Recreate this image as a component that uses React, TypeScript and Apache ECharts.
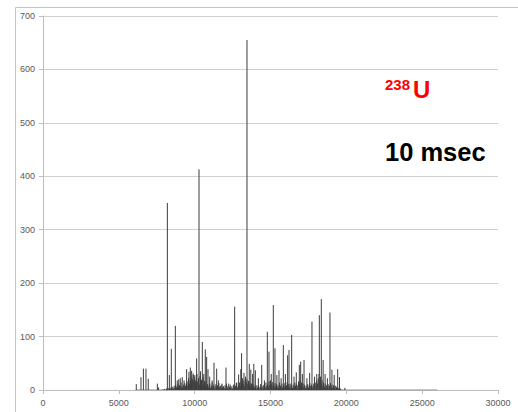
import React, { useEffect, useRef } from "react";
import * as echarts from "echarts";

// Axis ticks
const xTicks = [0, 5000, 10000, 15000, 20000, 25000, 30000];
const yTicks = [0, 100, 200, 300, 400, 500, 600, 700];

// Distinct spectral lines: [channel, counts]
const peaks: [number, number][] = [
  [6150, 11], [6460, 24], [6620, 40], [6790, 40], [6940, 21], [7540, 12], [7620, 5],
  [8200, 350], [8330, 28], [8460, 77], [8725, 120], [8850, 18], [8950, 20], [9050, 22],
  [9180, 24], [9300, 18], [9470, 39], [9625, 34], [9713, 42], [9800, 36], [9900, 31],
  [10010, 28], [10130, 59], [10286, 413], [10380, 35], [10505, 90], [10600, 30],
  [10700, 76], [10790, 62], [10880, 39], [10990, 25], [11150, 18], [11275, 51],
  [11450, 40], [11560, 18], [11800, 12], [12065, 42], [12250, 12], [12637, 156],
  [12780, 14], [12900, 29], [13040, 39], [13093, 69], [13250, 32], [13450, 655],
  [13600, 49], [13700, 38], [13820, 30], [13900, 49], [14000, 37], [14200, 22],
  [14420, 47], [14600, 18], [14790, 109], [14900, 72], [15050, 30], [15185, 159],
  [15295, 78], [15420, 28], [15560, 37], [15700, 22], [15845, 84], [15980, 30],
  [16130, 65], [16220, 75], [16395, 103], [16550, 25], [16700, 33], [16900, 47],
  [16990, 53], [17100, 30], [17210, 56], [17400, 22], [17580, 32], [17735, 128],
  [17900, 25], [18050, 30], [18220, 140], [18350, 170], [18470, 56], [18600, 30],
  [18750, 22], [18920, 145], [19050, 38], [19200, 28], [19430, 39], [19550, 24],
  [19900, 4],
];

// Low-level background counts, one reading every 50 channels from 7900
const floorStart = 7900;
const floorStep = 50;
const floorValues = [
  1, 0, 2, 1, 0, 3, 2, 1, 4, 2, 3, 5, 2, 6, 3, 8, 4, 10, 5, 7,
  12, 6, 9, 4, 14, 7, 5, 10, 6, 13, 8, 11, 16, 9, 22, 12, 18, 25, 14, 20,
  28, 15, 24, 18, 12, 30, 16, 22, 10, 26, 14, 19, 8, 24, 12, 17, 9, 15, 6, 11,
  5, 9, 12, 4, 8, 14, 6, 10, 3, 7, 11, 5, 9, 4, 13, 6, 8, 3, 10, 5,
  7, 4, 9, 3, 12, 5, 8, 2, 6, 10, 4, 7, 3, 9, 11, 5, 8, 13, 6, 4,
  9, 14, 7, 16, 10, 22, 12, 18, 8, 25, 15, 20, 11, 17, 9, 14, 6, 12, 5, 8,
  10, 4, 7, 3, 9, 5, 8, 2, 6, 11, 4, 7, 3, 9, 12, 5, 14, 7, 10, 6,
  16, 9, 18, 12, 8, 15, 10, 6, 13, 7, 11, 5, 9, 4, 14, 8, 6, 12, 5, 10,
  7, 13, 6, 9, 15, 8, 11, 5, 12, 7, 9, 4, 10, 6, 14, 8, 12, 5, 9, 16,
  11, 18, 9, 14, 7, 12, 5, 10, 4, 8, 6, 11, 5, 9, 13, 7, 10, 4, 8, 12,
  6, 14, 9, 18, 12, 22, 30, 16, 25, 11, 19, 8, 14, 6, 12, 5, 9, 4, 11, 7,
  8, 13, 5, 10, 4, 9, 7, 3, 8, 5, 6, 2, 4, 1, 3, 1,
];

// Zero-count baseline of the recorded range
const baseline: [number, number][] = [[6100, 0], [26000, 0]];

export default function App() {
  const ref = useRef<HTMLDivElement>(null);

  useEffect(() => {
    if (!ref.current) return;
    const chart = echarts.init(ref.current, null, { renderer: "svg" });

    const floorData = floorValues.map((v, i) => [floorStart + i * floorStep, v]);
    const spikeData = [...floorData, ...peaks];

    const renderSpike = (params: any, api: any) => {
      const x = api.value(0);
      const y = api.value(1);
      const p0 = api.coord([x, 0]);
      const p1 = api.coord([x, y]);
      return {
        type: "line",
        shape: { x1: p0[0], y1: p0[1], x2: p1[0], y2: p1[1] },
        style: { stroke: "#3c3c3c", lineWidth: 1 },
      };
    };

    const labelFont = "'Liberation Sans', Arial, sans-serif";
    const plain = (v: number) => String(v);

    chart.setOption({
      animation: false,
      backgroundColor: "#ffffff",
      grid: { left: 43, right: 20, top: 16, bottom: 22, containLabel: false },
      xAxis: {
        type: "value",
        min: xTicks[0],
        max: xTicks[xTicks.length - 1],
        interval: 5000,
        axisLine: { show: true, lineStyle: { color: "#bdbdbd", width: 1 } },
        axisTick: { show: true, length: 4, lineStyle: { color: "#bdbdbd" } },
        splitLine: { show: false },
        axisLabel: { color: "#595959", fontSize: 9, fontFamily: labelFont, margin: 8, formatter: plain },
      },
      yAxis: {
        type: "value",
        min: yTicks[0],
        max: yTicks[yTicks.length - 1],
        interval: 100,
        axisLine: { show: true, lineStyle: { color: "#bdbdbd", width: 1 } },
        axisTick: { show: true, length: 4, lineStyle: { color: "#bdbdbd" } },
        splitLine: { show: true, lineStyle: { color: "#d0d0d0", width: 1 } },
        axisLabel: { color: "#595959", fontSize: 9, fontFamily: labelFont, margin: 8, formatter: plain },
      },
      series: [
        {
          type: "line",
          data: baseline,
          symbol: "none",
          lineStyle: { color: "#8a8a8a", width: 1 },
          z: 3,
        },
        {
          type: "custom",
          renderItem: renderSpike,
          data: spikeData,
          clip: true,
          z: 4,
        },
      ],
      graphic: [
        {
          type: "rect",
          left: 13,
          top: 5,
          shape: { width: 600, height: 500 },
          style: { fill: "none", stroke: "#c4c4c4", lineWidth: 1 },
          silent: true,
        },
        {
          type: "text",
          left: 385,
          top: 77,
          style: {
            text: "238",
            fill: "#ff0000",
            font: "bold 15px 'Liberation Sans', Arial, sans-serif",
          },
        },
        {
          type: "text",
          left: 413,
          top: 77,
          style: {
            text: "U",
            fill: "#ff0000",
            font: "bold 24px 'Liberation Sans', Arial, sans-serif",
          },
        },
        {
          type: "text",
          left: 385,
          top: 139,
          style: {
            text: "10 msec",
            fill: "#000000",
            font: "bold 25.5px 'Liberation Sans', Arial, sans-serif",
          },
        },
      ],
    });

    return () => chart.dispose();
  }, []);

  return (
    <div
      ref={ref}
      style={{ position: "fixed", left: 0, top: 0, width: 518, height: 412, background: "#fff" }}
    />
  );
}
